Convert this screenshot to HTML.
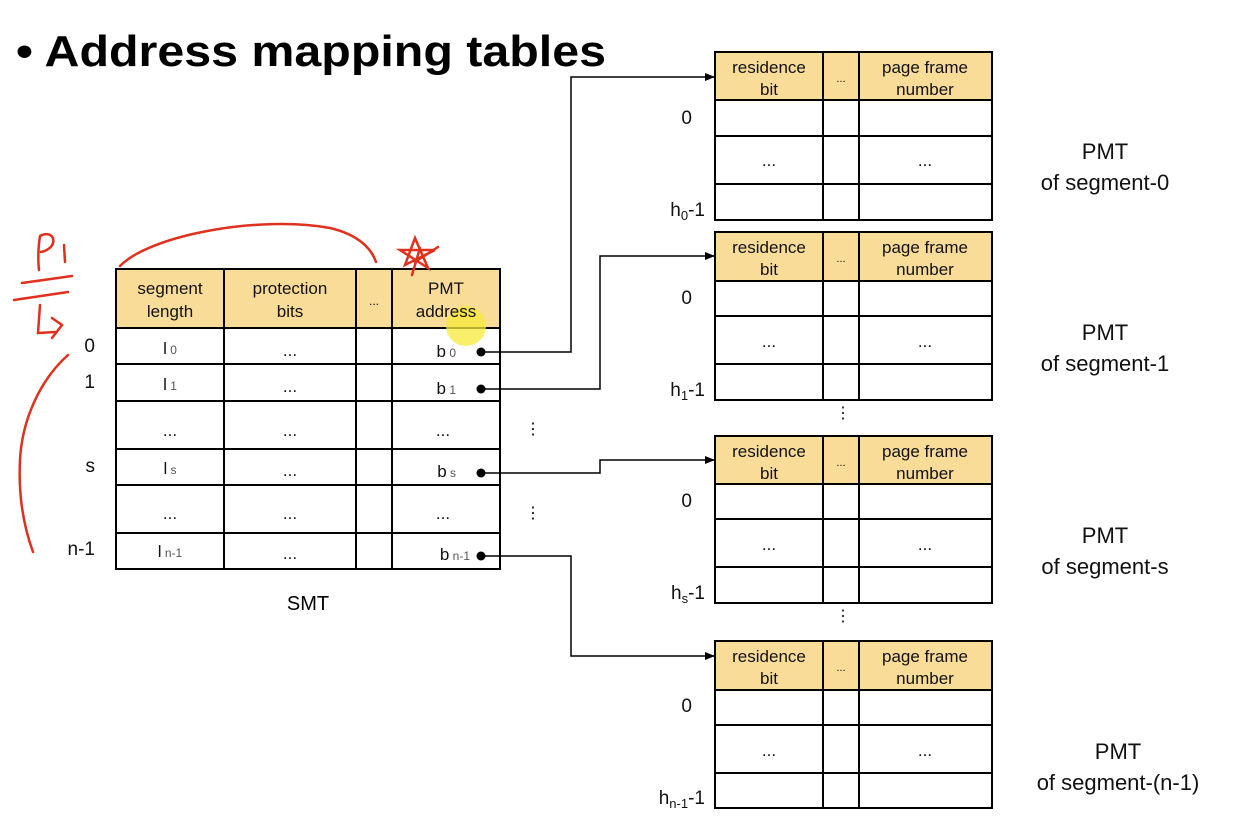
<!DOCTYPE html>
<html><head><meta charset="utf-8"><style>
html,body{margin:0;padding:0;background:#fff;}
svg{display:block;font-family:"Liberation Sans",sans-serif;}
</style></head><body>
<svg width="1250" height="819" viewBox="0 0 1250 819" xmlns="http://www.w3.org/2000/svg">
<defs><marker id="ar" markerWidth="10" markerHeight="8" refX="9" refY="4" orient="auto" markerUnits="userSpaceOnUse"><path d="M0,0 L10,4 L0,8 z" fill="#000"/></marker></defs>
<text x="16" y="66" font-size="44" font-weight="bold" textLength="590" lengthAdjust="spacingAndGlyphs">• Address mapping tables</text>

<!-- SMT -->
<rect x="116" y="269" width="384" height="59" fill="#f8dc98"/>
<g stroke="#000" stroke-width="2" fill="none">
<rect x="116" y="269" width="384" height="300"/>
<line x1="224" y1="269" x2="224" y2="569"/><line x1="356" y1="269" x2="356" y2="569"/><line x1="392" y1="269" x2="392" y2="569"/>
<line x1="116" y1="328" x2="500" y2="328"/><line x1="116" y1="364" x2="500" y2="364"/><line x1="116" y1="401" x2="500" y2="401"/><line x1="116" y1="449" x2="500" y2="449"/><line x1="116" y1="485" x2="500" y2="485"/><line x1="116" y1="533" x2="500" y2="533"/>
</g>
<circle cx="466" cy="326" r="20" fill="#f7e93a" opacity="0.75"/>
<g font-size="17" text-anchor="middle" fill="#111">
<text x="170" y="294">segment</text><text x="170" y="317">length</text>
<text x="290" y="294">protection</text><text x="290" y="317">bits</text>
<text x="374" y="305" font-size="12">...</text>
<text x="446" y="294">PMT</text><text x="446" y="317">address</text>
<text x="170" y="354">l<tspan font-size="12" fill="#555"> 0</tspan></text>
<text x="170" y="390">l<tspan font-size="12" fill="#555"> 1</tspan></text>
<text x="170" y="436">...</text>
<text x="170" y="474">l<tspan font-size="12" fill="#555"> s</tspan></text>
<text x="170" y="519">...</text>
<text x="170" y="557">l<tspan font-size="12" fill="#555"> n-1</tspan></text>
<text x="290" y="356">...</text><text x="290" y="392">...</text><text x="290" y="436">...</text><text x="290" y="476">...</text><text x="290" y="519">...</text><text x="290" y="559">...</text>
<text x="443" y="436">...</text><text x="443" y="519">...</text>
</g>
<g font-size="17" fill="#111" text-anchor="end">
<text x="456" y="357">b<tspan font-size="12" fill="#555"> 0</tspan></text>
<text x="456" y="394">b<tspan font-size="12" fill="#555"> 1</tspan></text>
<text x="456" y="477">b<tspan font-size="12" fill="#555"> s</tspan></text>
<text x="470" y="560">b<tspan font-size="12" fill="#555"> n-1</tspan></text>
<text x="95" y="352" font-size="19">0</text><text x="95" y="388" font-size="19">1</text><text x="95" y="472" font-size="19">s</text><text x="95" y="555" font-size="19">n-1</text>
</g>
<text x="308" y="610" font-size="20" text-anchor="middle">SMT</text>
<text x="533" y="434" font-size="16" text-anchor="middle">⋮</text>
<text x="533" y="518" font-size="16" text-anchor="middle">⋮</text>

<!-- connectors -->
<g fill="#000"><circle cx="481" cy="352" r="4.5"/><circle cx="481" cy="389" r="4.5"/><circle cx="481" cy="473" r="4.5"/><circle cx="481" cy="556" r="4.5"/></g>
<g stroke="#000" stroke-width="1.5" fill="none" marker-end="url(#ar)">
<polyline points="481,352 571,352 571,77 714,77"/>
<polyline points="481,389 600,389 600,256 714,256"/>
<polyline points="481,473 600,473 600,460 714,460"/>
<polyline points="481,556 571,556 571,656 714,656"/>
</g>

<!-- PMTs -->
<g id="pmts">
<!-- generated per table -->
</g>
<g font-size="17" fill="#111">
<!-- PMT 0 -->
<rect x="715" y="52" width="277" height="48" fill="#f8dc98"/>
<g stroke="#000" stroke-width="2" fill="none"><rect x="715" y="52" width="277" height="168"/><line x1="823" y1="52" x2="823" y2="220"/><line x1="859" y1="52" x2="859" y2="220"/><line x1="715" y1="100" x2="992" y2="100"/><line x1="715" y1="136" x2="992" y2="136"/><line x1="715" y1="184" x2="992" y2="184"/></g>
<g text-anchor="middle"><text x="769" y="73">residence</text><text x="769" y="95">bit</text><text x="841" y="82" font-size="11">...</text><text x="925" y="73">page frame</text><text x="925" y="95">number</text><text x="769" y="166">...</text><text x="925" y="166">...</text></g>
<text x="692" y="124" font-size="19" text-anchor="end">0</text><text x="705" y="216" font-size="19" text-anchor="end">h<tspan font-size="13" dy="4">0</tspan><tspan dy="-4">-1</tspan></text>
<g text-anchor="middle" font-size="22"><text x="1105" y="159">PMT</text><text x="1105" y="190">of segment-0</text></g>

<!-- PMT 1 -->
<rect x="715" y="232" width="277" height="49" fill="#f8dc98"/>
<g stroke="#000" stroke-width="2" fill="none"><rect x="715" y="232" width="277" height="168"/><line x1="823" y1="232" x2="823" y2="400"/><line x1="859" y1="232" x2="859" y2="400"/><line x1="715" y1="281" x2="992" y2="281"/><line x1="715" y1="316" x2="992" y2="316"/><line x1="715" y1="364" x2="992" y2="364"/></g>
<g text-anchor="middle"><text x="769" y="253">residence</text><text x="769" y="275">bit</text><text x="841" y="262" font-size="11">...</text><text x="925" y="253">page frame</text><text x="925" y="275">number</text><text x="769" y="347">...</text><text x="925" y="347">...</text></g>
<text x="692" y="304" font-size="19" text-anchor="end">0</text><text x="705" y="396" font-size="19" text-anchor="end">h<tspan font-size="13" dy="4">1</tspan><tspan dy="-4">-1</tspan></text>
<g text-anchor="middle" font-size="22"><text x="1105" y="340">PMT</text><text x="1105" y="371">of segment-1</text></g>
<text x="843" y="418" font-size="16" text-anchor="middle">⋮</text>

<!-- PMT s -->
<rect x="715" y="436" width="277" height="48" fill="#f8dc98"/>
<g stroke="#000" stroke-width="2" fill="none"><rect x="715" y="436" width="277" height="167"/><line x1="823" y1="436" x2="823" y2="603"/><line x1="859" y1="436" x2="859" y2="603"/><line x1="715" y1="484" x2="992" y2="484"/><line x1="715" y1="519" x2="992" y2="519"/><line x1="715" y1="567" x2="992" y2="567"/></g>
<g text-anchor="middle"><text x="769" y="457">residence</text><text x="769" y="479">bit</text><text x="841" y="466" font-size="11">...</text><text x="925" y="457">page frame</text><text x="925" y="479">number</text><text x="769" y="550">...</text><text x="925" y="550">...</text></g>
<text x="692" y="507" font-size="19" text-anchor="end">0</text><text x="705" y="599" font-size="19" text-anchor="end">h<tspan font-size="13" dy="4">s</tspan><tspan dy="-4">-1</tspan></text>
<g text-anchor="middle" font-size="22"><text x="1105" y="543">PMT</text><text x="1105" y="574">of segment-s</text></g>
<text x="843" y="621" font-size="16" text-anchor="middle">⋮</text>

<!-- PMT n-1 -->
<rect x="715" y="641" width="277" height="49" fill="#f8dc98"/>
<g stroke="#000" stroke-width="2" fill="none"><rect x="715" y="641" width="277" height="167"/><line x1="823" y1="641" x2="823" y2="808"/><line x1="859" y1="641" x2="859" y2="808"/><line x1="715" y1="690" x2="992" y2="690"/><line x1="715" y1="725" x2="992" y2="725"/><line x1="715" y1="773" x2="992" y2="773"/></g>
<g text-anchor="middle"><text x="769" y="662">residence</text><text x="769" y="684">bit</text><text x="841" y="671" font-size="11">...</text><text x="925" y="662">page frame</text><text x="925" y="684">number</text><text x="769" y="756">...</text><text x="925" y="756">...</text></g>
<text x="692" y="712" font-size="19" text-anchor="end">0</text><text x="705" y="804" font-size="19" text-anchor="end">h<tspan font-size="13" dy="4">n-1</tspan><tspan dy="-4">-1</tspan></text>
<g text-anchor="middle" font-size="22"><text x="1118" y="759">PMT</text><text x="1118" y="790">of segment-(n-1)</text></g>
</g>

<!-- red annotations -->
<g stroke="#e0301e" stroke-width="2.5" fill="none" stroke-linecap="round">
<path d="M120,266 C150,235 260,215 330,228 C360,235 372,250 376,262"/>
<path d="M40,236 C38,248 38,262 39,270 M40,236 C55,228 60,248 41,252"/>
<path d="M64,245 L65,262"/>
<path d="M22,283 L72,276 M14,300 L68,292"/>
<path d="M40,305 L38,333 L55,332 M52,318 L62,325 L52,338"/>
<path d="M68,355 C40,380 22,420 20,460 C18,500 25,530 33,552"/>
<path d="M405,265 L415,238 L428,268 L400,250 L435,250 Z"/>
<path d="M420,248 L412,275 M415,262 L438,247"/>
</g>
</svg>
</body></html>
